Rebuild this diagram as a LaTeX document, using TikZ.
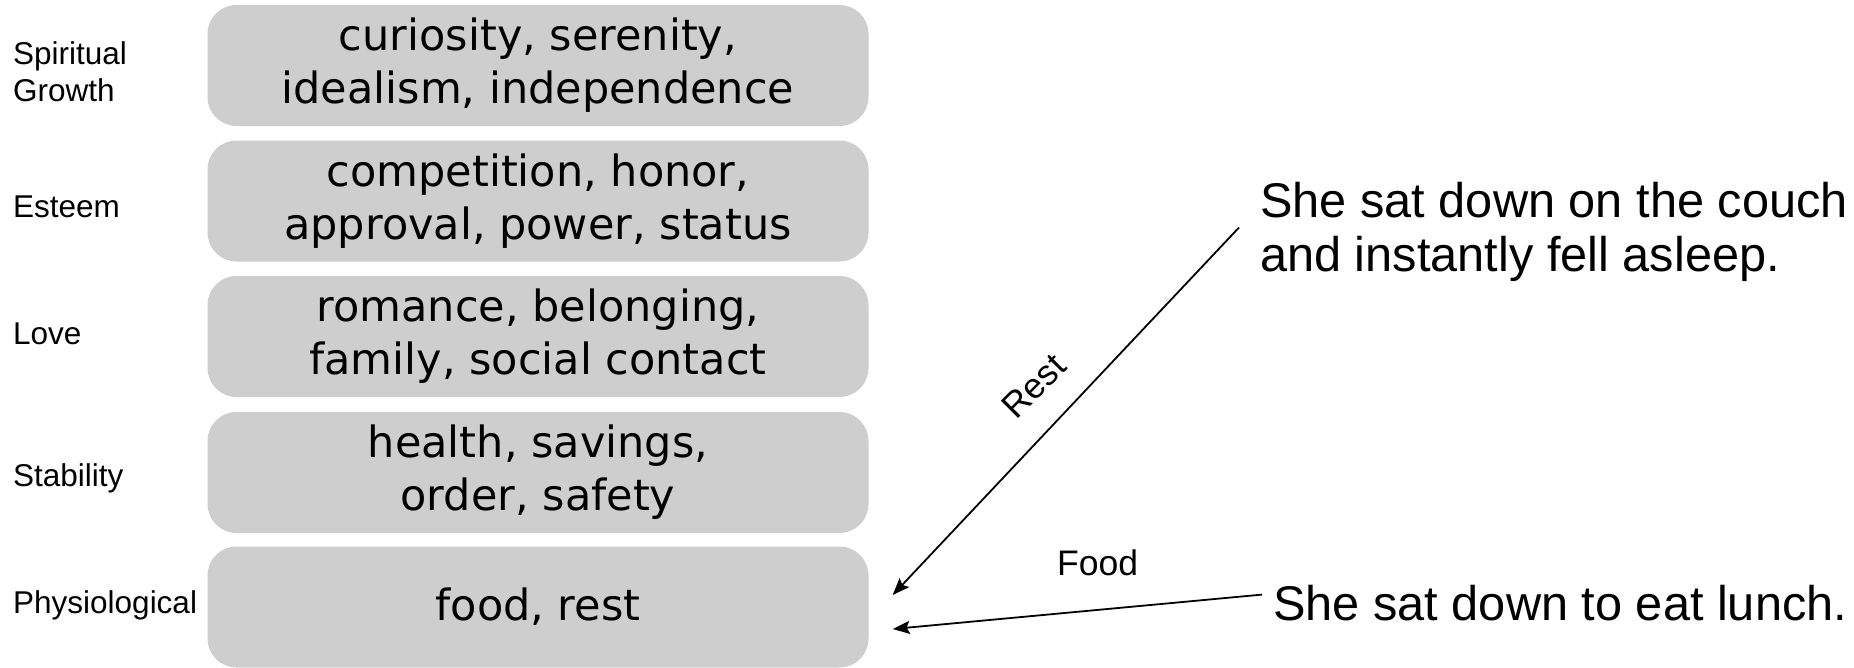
\documentclass[tikz,border=0pt]{standalone}
\usepackage{fontspec}
\setmainfont{Liberation Sans}
\newfontfamily\boxfont{DejaVu Sans}
\usetikzlibrary{arrows.meta}
\definecolor{boxgray}{RGB}{206,206,206}
\begin{document}
\begin{tikzpicture}[x=1pt,y=-1pt,
  needbox/.style={fill=boxgray, rounded corners=29pt, minimum width=661pt, minimum height=121pt, inner sep=0pt, align=center, font=\boxfont\fontsize{43}{53}\selectfont},
  levellabel/.style={inner sep=0pt, align=left, font=\fontsize{31.5}{37}\selectfont},
  story/.style={inner sep=0pt, align=left, font=\fontsize{48.7}{54}\selectfont},
  edgelabel/.style={inner sep=0pt, font=\fontsize{35.5}{40}\selectfont},
  arr/.style={line width=1.8pt, -{Stealth[length=17pt,width=13pt,inset=3pt]}}]
\fill[white] (0,0) rectangle (1854,667);
\useasboundingbox (0,0) rectangle (1854,667);

% need boxes
\node[needbox] (b1) at (538,65.5) {curiosity, serenity,\\idealism, independence};
\node[needbox] (b2) at (538,201) {competition, honor,\\approval, power, status};
\node[needbox] (b3) at (538,336.5) {romance, belonging,\\family, social contact};
\node[needbox] (b4) at (538,472.5) {health, savings,\\order, safety};
\node[needbox] (b5) at (538,607) {food, rest};

% level labels
\node[levellabel, anchor=west] (l1) at (13,72) {Spiritual\\Growth};
\node[levellabel, anchor=base west] (l2) at (13,217) {Esteem};
\node[levellabel, anchor=base west] (l3) at (13,344) {Love};
\node[levellabel, anchor=base west] (l4) at (13,486) {Stability};
\node[levellabel, anchor=base west] (l5) at (13,613) {Physiological};

% story sentences
\node[story, anchor=west] (couch) at (1260,231.5) {She sat down on the couch\\and instantly fell asleep.};
\node[story, anchor=base west] (lunch) at (1273,620) {She sat down to eat lunch.};

% connector end points
\coordinate (restsrc) at ([xshift=-21pt,yshift=4pt]couch.west);
\coordinate (foodsrc) at ([xshift=-11pt,yshift=8pt]lunch.west);
\coordinate (resttip) at ([xshift=24pt,yshift=12pt]b5.east);
\coordinate (foodtip) at ([xshift=24pt,yshift=-22pt]b5.east);

\draw[arr] (restsrc) -- (resttip);
\draw[arr] (foodsrc) -- (foodtip);

\node[edgelabel, rotate=45] (restlbl) at (1034,386) {Rest};
\node[edgelabel, anchor=base west] (foodlbl) at (1057,575) {Food};
\end{tikzpicture}
\end{document}
